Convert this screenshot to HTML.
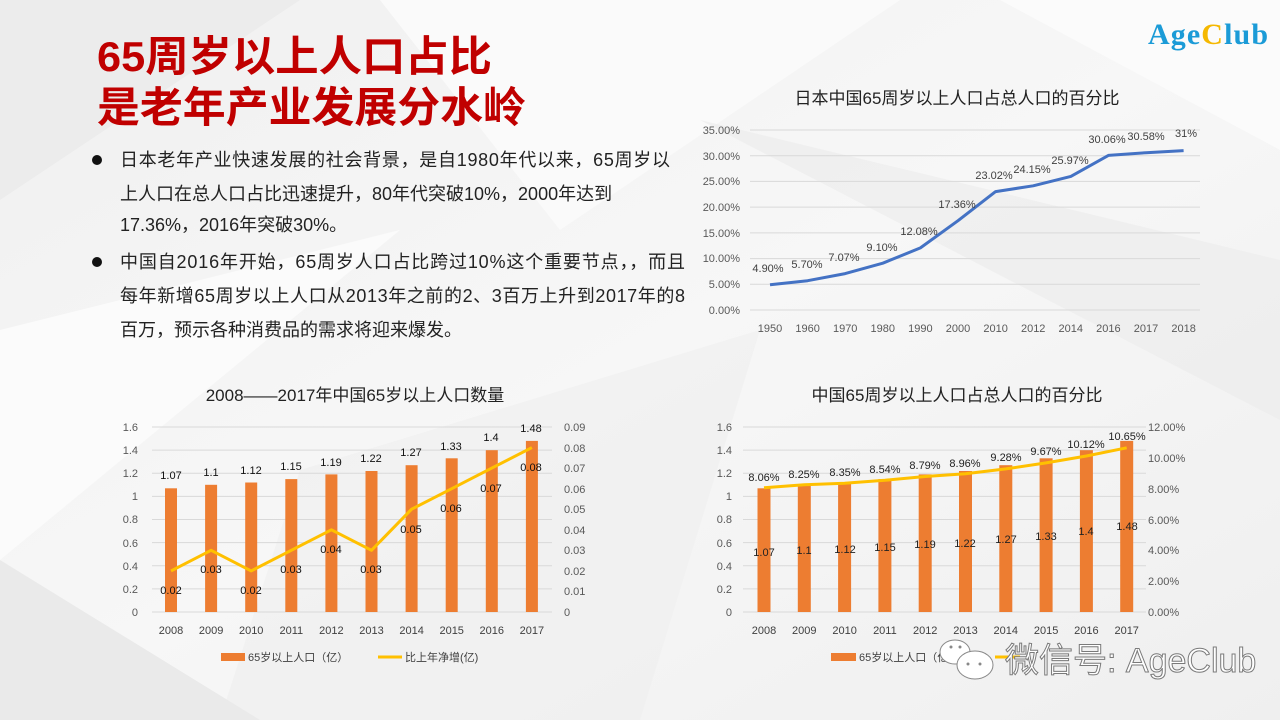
<!DOCTYPE html>
<html><head><meta charset="utf-8"><style>
html,body{margin:0;padding:0}
body{width:1280px;height:720px;overflow:hidden;position:relative;background:#f3f3f3;font-family:"Liberation Sans","Noto Sans CJK SC",sans-serif}
svg{position:absolute;left:0;top:0}
.t{font-family:"Liberation Sans","Noto Sans CJK SC",sans-serif}
</style></head><body>
<svg width="1280" height="720" viewBox="0 0 1280 720" xmlns="http://www.w3.org/2000/svg" class="t">
<defs><linearGradient id="bg" x1="0" y1="0" x2="1" y2="1"><stop offset="0" stop-color="#f0f0f0"/><stop offset="0.5" stop-color="#f7f7f7"/><stop offset="1" stop-color="#efefef"/></linearGradient></defs>
<rect width="1280" height="720" fill="url(#bg)"/>
<polygon points="0,0 300,0 0,200" fill="#ececec"/>
<polygon points="380,0 900,0 560,230" fill="#fafafa"/>
<polygon points="700,120 1280,260 1280,420" fill="#ebebeb" opacity="0.6"/>
<polygon points="0,330 400,230 0,560" fill="#fbfbfb"/>
<polygon points="300,470 760,330 640,720 220,720" fill="#eeeeee" opacity="0.6"/>
<polygon points="1000,0 1280,0 1280,150" fill="#fbfbfb"/>
<polygon points="0,560 260,720 0,720" fill="#eaeaea"/>

<!-- Title -->
<text x="97" y="71" font-size="42" font-weight="bold" fill="#c00000" textLength="395" lengthAdjust="spacingAndGlyphs">65周岁以上人口占比</text>
<text x="97" y="122" font-size="42" font-weight="bold" fill="#c00000" textLength="429" lengthAdjust="spacingAndGlyphs">是老年产业发展分水岭</text>
<!-- Logo -->
<text x="1148" y="44" font-family="Liberation Serif,serif" font-size="30" font-weight="bold" fill="#1b9bd7" textLength="120">Age<tspan fill="#f5b800">C</tspan>lub</text>

<!-- Bullets -->
<g font-size="18" fill="#222">
<circle cx="97" cy="160" r="5" fill="#111"/>
<text x="120" y="166" textLength="550">日本老年产业快速发展的社会背景，是自1980年代以来，65周岁以</text>
<text x="120" y="200">上人口在总人口占比迅速提升，80年代突破10%，2000年达到</text>
<text x="120" y="231">17.36%，2016年突破30%。</text>
<circle cx="97" cy="262" r="5" fill="#111"/>
<text x="120" y="268" textLength="565">中国自2016年开始，65周岁人口占比跨过10%这个重要节点，，而且</text>
<text x="120" y="302" textLength="565">每年新增65周岁以上人口从2013年之前的2、3百万上升到2017年的8</text>
<text x="120" y="336">百万，预示各种消费品的需求将迎来爆发。</text>
</g>

<!-- Chart 1 -->
<text x="957" y="104" font-size="17" fill="#222" text-anchor="middle">日本中国65周岁以上人口占总人口的百分比</text>
<g stroke="#d9d9d9" stroke-width="1">
<line x1="750" y1="130" x2="1200" y2="130"/><line x1="750" y1="155.7" x2="1200" y2="155.7"/><line x1="750" y1="181.4" x2="1200" y2="181.4"/><line x1="750" y1="207.1" x2="1200" y2="207.1"/><line x1="750" y1="232.9" x2="1200" y2="232.9"/><line x1="750" y1="258.6" x2="1200" y2="258.6"/><line x1="750" y1="284.3" x2="1200" y2="284.3"/><line x1="750" y1="310" x2="1200" y2="310"/>
</g>
<g font-size="11" fill="#595959" text-anchor="end">
<text x="740" y="134">35.00%</text><text x="740" y="160">30.00%</text><text x="740" y="185">25.00%</text><text x="740" y="211">20.00%</text><text x="740" y="237">15.00%</text><text x="740" y="262">10.00%</text><text x="740" y="288">5.00%</text><text x="740" y="314">0.00%</text>
</g>
<g font-size="11" fill="#595959" text-anchor="middle">
<text x="770" y="332">1950</text><text x="807.6" y="332">1960</text><text x="845.2" y="332">1970</text><text x="882.8" y="332">1980</text><text x="920.4" y="332">1990</text><text x="958" y="332">2000</text><text x="995.6" y="332">2010</text><text x="1033.2" y="332">2012</text><text x="1070.8" y="332">2014</text><text x="1108.4" y="332">2016</text><text x="1146" y="332">2017</text><text x="1183.6" y="332">2018</text>
</g>
<polyline fill="none" stroke="#4472c4" stroke-width="3" stroke-linejoin="round" points="770,284.8 807.6,280.7 845.2,273.6 882.8,263.2 920.4,247.9 958,220.7 995.6,191.6 1033.2,185.8 1070.8,176.4 1108.4,155.4 1146,152.7 1183.6,150.6"/>
<g font-size="11" fill="#404040" text-anchor="middle">
<text x="768" y="272">4.90%</text><text x="807" y="268">5.70%</text><text x="844" y="261">7.07%</text><text x="882" y="251">9.10%</text><text x="919" y="235">12.08%</text><text x="957" y="208">17.36%</text><text x="994" y="179">23.02%</text><text x="1032" y="173">24.15%</text><text x="1070" y="164">25.97%</text><text x="1107" y="143">30.06%</text><text x="1146" y="140">30.58%</text><text x="1186" y="137">31%</text>
</g>

<!-- Chart 2 -->
<text x="355" y="401" font-size="17" fill="#222" text-anchor="middle">2008——2017年中国65岁以上人口数量</text>
<g stroke="#d9d9d9" stroke-width="1">
<line x1="152" y1="427" x2="552" y2="427"/><line x1="152" y1="450.1" x2="552" y2="450.1"/><line x1="152" y1="473.3" x2="552" y2="473.3"/><line x1="152" y1="496.4" x2="552" y2="496.4"/><line x1="152" y1="519.5" x2="552" y2="519.5"/><line x1="152" y1="542.6" x2="552" y2="542.6"/><line x1="152" y1="565.8" x2="552" y2="565.8"/><line x1="152" y1="588.9" x2="552" y2="588.9"/><line x1="152" y1="612" x2="552" y2="612"/>
</g>
<g font-size="11" fill="#595959" text-anchor="end">
<text x="138" y="431">1.6</text><text x="138" y="454">1.4</text><text x="138" y="477">1.2</text><text x="138" y="500">1</text><text x="138" y="523">0.8</text><text x="138" y="547">0.6</text><text x="138" y="570">0.4</text><text x="138" y="593">0.2</text><text x="138" y="616">0</text>
</g>
<g font-size="11" fill="#595959">
<text x="564" y="431">0.09</text><text x="564" y="452">0.08</text><text x="564" y="472">0.07</text><text x="564" y="493">0.06</text><text x="564" y="513">0.05</text><text x="564" y="534">0.04</text><text x="564" y="554">0.03</text><text x="564" y="575">0.02</text><text x="564" y="595">0.01</text><text x="564" y="616">0</text>
</g>
<g font-size="11" fill="#404040" text-anchor="middle">
<text x="171" y="634">2008</text><text x="211.1" y="634">2009</text><text x="251.2" y="634">2010</text><text x="291.3" y="634">2011</text><text x="331.4" y="634">2012</text><text x="371.5" y="634">2013</text><text x="411.6" y="634">2014</text><text x="451.7" y="634">2015</text><text x="491.8" y="634">2016</text><text x="531.9" y="634">2017</text>
</g>
<g fill="#ed7d31">
<rect x="165" y="488.3" width="12" height="123.7"/><rect x="205.1" y="484.8" width="12" height="127.2"/><rect x="245.2" y="482.5" width="12" height="129.5"/><rect x="285.3" y="479.1" width="12" height="132.9"/><rect x="325.4" y="474.4" width="12" height="137.6"/><rect x="365.5" y="471" width="12" height="141"/><rect x="405.6" y="465.2" width="12" height="146.8"/><rect x="445.7" y="458.3" width="12" height="153.7"/><rect x="485.8" y="450.2" width="12" height="161.8"/><rect x="525.9" y="440.9" width="12" height="171.1"/>
</g>
<polyline fill="none" stroke="#ffc000" stroke-width="3" stroke-linejoin="round" points="171,570.9 211.1,550.3 251.2,570.9 291.3,550.3 331.4,529.8 371.5,550.3 411.6,509.2 451.7,488.7 491.8,468.1 531.9,447.6"/>
<g font-size="11" fill="#111" text-anchor="middle">
<text x="171" y="479">1.07</text><text x="211" y="476">1.1</text><text x="251" y="474">1.12</text><text x="291" y="470">1.15</text><text x="331" y="466">1.19</text><text x="371" y="462">1.22</text><text x="411" y="456">1.27</text><text x="451" y="450">1.33</text><text x="491" y="441">1.4</text><text x="531" y="432">1.48</text>
<text x="171" y="594">0.02</text><text x="211" y="573">0.03</text><text x="251" y="594">0.02</text><text x="291" y="573">0.03</text><text x="331" y="553">0.04</text><text x="371" y="573">0.03</text><text x="411" y="533">0.05</text><text x="451" y="512">0.06</text><text x="491" y="492">0.07</text><text x="531" y="471">0.08</text>
</g>
<g font-size="11" fill="#404040">
<rect x="221" y="653" width="24" height="8" fill="#ed7d31"/><text x="248" y="661">65岁以上人口（亿）</text>
<line x1="378" y1="657" x2="402" y2="657" stroke="#ffc000" stroke-width="3"/><text x="405" y="661">比上年净增(亿)</text>
</g>

<!-- Chart 3 -->
<text x="957" y="401" font-size="17" fill="#222" text-anchor="middle">中国65周岁以上人口占总人口的百分比</text>
<g stroke="#d9d9d9" stroke-width="1">
<line x1="743" y1="427" x2="1146" y2="427"/><line x1="743" y1="450.1" x2="1146" y2="450.1"/><line x1="743" y1="473.3" x2="1146" y2="473.3"/><line x1="743" y1="496.4" x2="1146" y2="496.4"/><line x1="743" y1="519.5" x2="1146" y2="519.5"/><line x1="743" y1="542.6" x2="1146" y2="542.6"/><line x1="743" y1="565.8" x2="1146" y2="565.8"/><line x1="743" y1="588.9" x2="1146" y2="588.9"/><line x1="743" y1="612" x2="1146" y2="612"/>
</g>
<g font-size="11" fill="#595959" text-anchor="end">
<text x="732" y="431">1.6</text><text x="732" y="454">1.4</text><text x="732" y="477">1.2</text><text x="732" y="500">1</text><text x="732" y="523">0.8</text><text x="732" y="547">0.6</text><text x="732" y="570">0.4</text><text x="732" y="593">0.2</text><text x="732" y="616">0</text>
</g>
<g font-size="11" fill="#595959">
<text x="1148" y="431">12.00%</text><text x="1148" y="462">10.00%</text><text x="1148" y="493">8.00%</text><text x="1148" y="524">6.00%</text><text x="1148" y="554">4.00%</text><text x="1148" y="585">2.00%</text><text x="1148" y="616">0.00%</text>
</g>
<g font-size="11" fill="#404040" text-anchor="middle">
<text x="764" y="634">2008</text><text x="804.3" y="634">2009</text><text x="844.6" y="634">2010</text><text x="884.9" y="634">2011</text><text x="925.2" y="634">2012</text><text x="965.5" y="634">2013</text><text x="1005.8" y="634">2014</text><text x="1046.1" y="634">2015</text><text x="1086.4" y="634">2016</text><text x="1126.7" y="634">2017</text>
</g>
<g fill="#ed7d31">
<rect x="757.5" y="488.3" width="13" height="123.7"/><rect x="797.8" y="484.8" width="13" height="127.2"/><rect x="838.1" y="482.5" width="13" height="129.5"/><rect x="878.4" y="479.1" width="13" height="132.9"/><rect x="918.7" y="474.4" width="13" height="137.6"/><rect x="959" y="471" width="13" height="141"/><rect x="999.3" y="465.2" width="13" height="146.8"/><rect x="1039.6" y="458.3" width="13" height="153.7"/><rect x="1079.9" y="450.2" width="13" height="161.8"/><rect x="1120.2" y="440.9" width="13" height="171.1"/>
</g>
<polyline fill="none" stroke="#ffc000" stroke-width="3" stroke-linejoin="round" points="764,487.7 804.3,484.8 844.6,483.2 884.9,480.3 925.2,476.5 965.5,473.8 1005.8,468.9 1046.1,462.9 1086.4,456 1126.7,447.8"/>
<g font-size="11" fill="#222" text-anchor="middle">
<text x="764" y="481">8.06%</text><text x="804" y="478">8.25%</text><text x="845" y="476">8.35%</text><text x="885" y="473">8.54%</text><text x="925" y="469">8.79%</text><text x="965" y="467">8.96%</text><text x="1006" y="461">9.28%</text><text x="1046" y="455">9.67%</text><text x="1086" y="448">10.12%</text><text x="1127" y="440">10.65%</text>
<text x="764" y="556">1.07</text><text x="804" y="554">1.1</text><text x="845" y="553">1.12</text><text x="885" y="551">1.15</text><text x="925" y="548">1.19</text><text x="965" y="547">1.22</text><text x="1006" y="543">1.27</text><text x="1046" y="540">1.33</text><text x="1086" y="535">1.4</text><text x="1127" y="530">1.48</text>
</g>
<g font-size="11" fill="#404040">
<rect x="831" y="653" width="25" height="8" fill="#ed7d31"/><text x="859" y="661">65岁以上人口（亿）</text>
<line x1="995" y1="657" x2="1020" y2="657" stroke="#ffc000" stroke-width="3"/>
</g>
<!-- watermark -->
<g fill="#fff" stroke="#888" stroke-width="1">
<ellipse cx="955" cy="652" rx="15" ry="12"/>
<ellipse cx="975" cy="665" rx="18" ry="14"/>
</g>
<g fill="#888"><circle cx="951" cy="647" r="1.5"/><circle cx="960" cy="647" r="1.5"/><circle cx="968" cy="664" r="1.5"/><circle cx="980" cy="664" r="1.5"/></g>
<text x="1005" y="672" font-size="34" fill="#fff" stroke="#7a7a7a" stroke-width="1">微信号: AgeClub</text>
</svg>
</body></html>
